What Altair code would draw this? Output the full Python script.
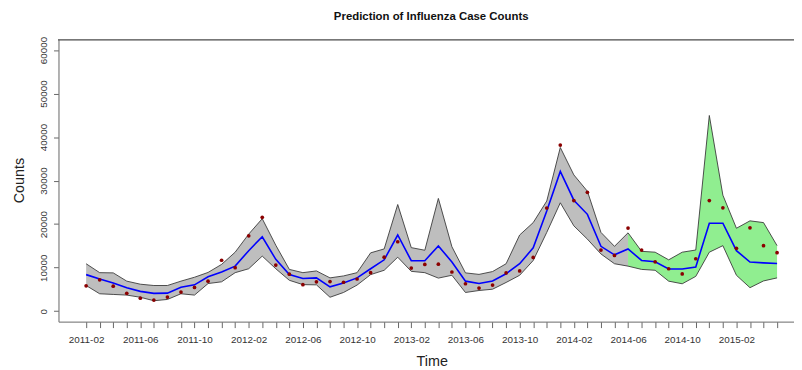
import altair as alt
import pandas as pd

months = pd.date_range("2011-02-01", periods=52, freq="MS").strftime("%Y-%m").tolist()
tick_labels = ["2011-02", "2011-06", "2011-10", "2012-02", "2012-06", "2012-10",
               "2013-02", "2013-06", "2013-10", "2014-02", "2014-06", "2014-10", "2015-02"]

actual = [5830, 7200, 5750, 4100, 3000, 2550, 3250, 4400, 5450, 6900, 11700, 10000, 17300,
          21550, 10600, 8500, 6100, 6750, 6800, 6650, 7400, 8850, 12400, 15950, 9900, 10750, 10800,
          9000, 6300, 5300, 6000, 8800, 9250, 12350, 23700, 38150, 25400, 27300, 14050, 12800, 19100,
          14050, 11350, 9750, 8550, 12050, 25400, 23750, 14450, 19150, 15050, 13450]
pred = [8400, 7400, 6500, 5400, 4550, 4100, 4150, 5500, 6050, 7900, 9000, 10350, 13900,
        17100, 11900, 8400, 7500, 7650, 5600, 6500, 7650, 9750, 11800, 17500, 11600, 11600, 15000,
        11300, 6900, 6350, 6950, 8600, 10900, 14550, 23000, 32100, 25500, 22250, 14900, 12950, 14300,
        11650, 11350, 9700, 9700, 10150, 20200, 20200, 13900, 11300, 11100, 10950]
upper = [10900, 8850, 8800, 6900, 6200, 5900, 5900, 6900, 7800, 8900, 10750, 13550, 17700,
         21250, 15150, 9600, 8850, 9250, 7650, 8100, 8850, 13400, 14300, 24500, 14600, 14000, 25900,
         14800, 8800, 8450, 9100, 10900, 17500, 20350, 25300, 37600, 31300, 27550, 18100, 14900, 18000,
         13750, 13550, 11800, 13550, 14050, 44950, 26650, 19050, 20750, 20350, 15050]
lower = [5900, 4000, 3850, 3700, 3200, 2400, 2700, 4000, 3700, 6350, 6750, 8850, 9750,
         12650, 9750, 7100, 6100, 6050, 3200, 4300, 6000, 8400, 9400, 12400, 9150, 8850, 7600,
         8250, 4300, 4750, 5050, 6600, 8250, 11650, 18100, 24900, 19600, 16550, 13150, 10900, 10350,
         9600, 9400, 6900, 6300, 8000, 13550, 15050, 8250, 5400, 6950, 7650]
forecast_start = "2014-06"

fs = months.index(forecast_start)
df = pd.DataFrame({"t": list(range(len(months))), "month": months, "actual": actual,
                   "pred": pred, "upper": upper, "lower": lower})
fit_df = df[df.t <= fs]
fc_df = df[df.t >= fs]

FONT = "Liberation Sans"
lab_arr = "[" + ",".join("'%s'" % s for s in tick_labels) + "]"
label_expr = "datum.value % 4 == 0 ? " + lab_arr + "[datum.value / 4] : ''"

x_enc = alt.X("t:Q", scale=alt.Scale(domain=[-2.04, 52.25], nice=False, zero=False),
              axis=alt.Axis(values=list(range(len(months))), labelExpr=label_expr,
                            title="Time", titleFontSize=14.5, titleFont=FONT, titleFontWeight="normal",
                            titleColor="#222", titleX=377, titleY=44, titleBaseline="alphabetic",
                            titleAlign="center",
                            labelFont=FONT, labelFontSize=10, labelColor="#333",
                            labelBaseline="alphabetic", labelPadding=15, labelOverlap=False,
                            labelFlush=False, tickSize=6, tickColor="#666", domainColor="#777",
                            grid=False))
y_scale = alt.Scale(domain=[-2400, 62400], nice=False, zero=False)
y_axis = alt.Axis(values=[0, 10000, 20000, 30000, 40000, 50000, 60000], format="d",
                  title="Counts", titleFontSize=14.5, titleFont=FONT, titleFontWeight="normal",
                  titleColor="#222", titleX=-35, titleY=142, titleAngle=270,
                  titleBaseline="alphabetic", titleAlign="center",
                  labelAngle=270, labelAlign="center", labelBaseline="alphabetic",
                  labelFont=FONT, labelFontSize=10, labelColor="#333", labelPadding=7,
                  labelOverlap=False, labelFlush=False,
                  tickSize=5, tickColor="#666", domainColor="#777", grid=False)

base = alt.Chart(df).encode(x=x_enc)

band_fit = alt.Chart(fit_df).mark_area(color="#BEBEBE", opacity=1).encode(
    x=x_enc, y=alt.Y("upper:Q", scale=y_scale, axis=y_axis), y2="lower:Q")
band_fc = alt.Chart(fc_df).mark_area(color="#90EE90", opacity=1).encode(
    x=x_enc, y=alt.Y("upper:Q", scale=y_scale), y2="lower:Q")
up_line = base.mark_line(color="#3a3a3a", strokeWidth=0.9).encode(y=alt.Y("upper:Q", scale=y_scale))
lo_line = base.mark_line(color="#3a3a3a", strokeWidth=0.9).encode(y=alt.Y("lower:Q", scale=y_scale))
pred_line = base.mark_line(color="#0000FF", strokeWidth=1.6).encode(y=alt.Y("pred:Q", scale=y_scale))
pts = base.mark_circle(color="#8B0000", size=14, opacity=1).encode(y=alt.Y("actual:Q", scale=y_scale))
top_rule = alt.Chart(df).mark_rule(color="#777", strokeWidth=1).encode(
    y=alt.value(0), x=alt.value(0), x2=alt.value(743))

chart = alt.layer(band_fit, band_fc, up_line, lo_line, pred_line, pts, top_rule).properties(
    width=743, height=285,
    title=alt.TitleParams("Prediction of Influenza Case Counts", font=FONT, fontSize=11.5,
                          fontWeight="bold", color="#111", anchor="middle", dx=5,
                          baseline="alphabetic", offset=5),
    autosize=alt.AutoSizeParams(type="none"),
    padding={"left": 51, "top": 30, "right": 0, "bottom": 46},
).configure_view(strokeWidth=0).configure(background="white")

chart.save("out.html", embed_options={"renderer": "svg", "actions": False})
